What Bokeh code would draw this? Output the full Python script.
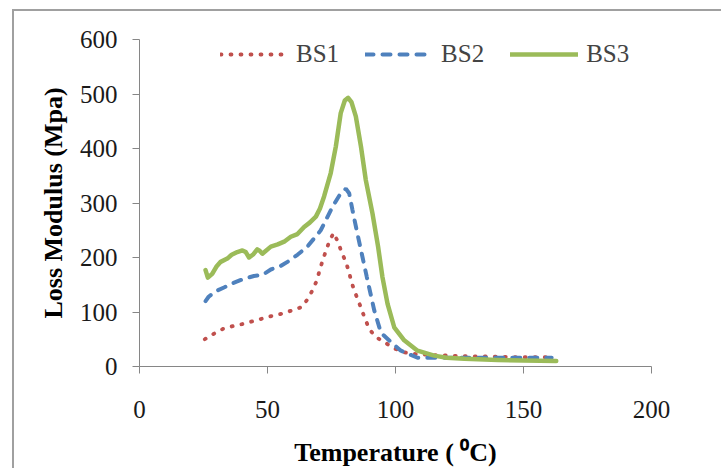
from bokeh.plotting import figure
from bokeh.models import Legend, LegendItem, Range1d, FixedTicker
from bokeh.embed import file_html
from bokeh.resources import INLINE

# ---- data ----
bs1_x = [25.5, 29, 32.6, 36.4, 40.3, 44.2, 48.1, 51.9, 55.8, 59.6, 63.3, 65.6, 67.6, 69.1, 70.3,
         71.5, 72.8, 74.2, 75.8, 77.6, 78.9, 80.6, 81.8, 82.8, 84.1, 85.7, 87.1, 89.7, 92.3, 95.6,
         99.1, 103.4, 107.3, 115, 127, 140, 150, 161]
bs1_y = [50, 60, 69, 74, 78, 83, 88, 93, 97, 103, 109, 123, 140, 156, 175,
         194, 212, 230, 245, 228, 210, 192, 174, 155, 137, 118, 100, 69, 54, 45,
         34, 26, 23, 21, 19, 18, 17, 17]

bs2_x = [25.8, 27, 29.7, 33, 36, 40.8, 44.7, 48, 51.3, 55, 57.8, 61.7, 65.6, 70.8, 75.4, 78.6,
         80.6, 81.9, 83.2, 85.1, 87.1, 88.8, 91.7, 94.3, 98.2, 102.1, 108.6, 115, 125, 140, 150, 161]
bs2_y = [120, 128, 138, 145, 152, 161, 166, 168, 178, 184, 192, 205, 220, 250, 293, 318,
         326, 318, 287, 244, 201, 164, 103, 62, 45, 29, 16, 16, 16, 16, 16, 16]

bs3_x = [25.8, 26.7, 28.4, 30, 31.7, 34.3, 36, 38.2, 40.2, 41.5, 42.8, 44.5, 46, 47, 48, 51.3,
         54, 56.5, 59.1, 61.7, 64.3, 66.5, 68.9, 70.5, 72.1, 74.7, 76.7, 78.6, 80.2, 81.5, 82.8,
         84.5, 86.5, 88.4, 91, 93.2, 94.9, 96.9, 99.5, 103.4, 108.6, 115.1, 120, 126.9, 140, 150, 162.8]
bs3_y = [177, 163, 170, 183, 192, 198, 205, 210, 213, 210, 200, 206, 215, 212, 207, 220,
         224, 229, 238, 243, 256, 264, 275, 290, 312, 355, 404, 465, 488, 493, 485,
         459, 404, 342, 281, 220, 164, 115, 72, 48, 29, 20, 16, 14, 12, 11, 10]

x_ticks = [0, 50, 100, 150, 200]
y_ticks = [0, 100, 200, 300, 400, 500, 600]
series_names = ["BS1", "BS2", "BS3"]

FONT = "Liberation Serif"
AXIS_GRAY = "#868686"

# canvas starts at (14, 11): 12/9 px margin + 2px border
p = figure(width=709, height=459, output_backend="svg", toolbar_location=None,
           x_range=Range1d(0, 200), y_range=Range1d(0, 600),
           min_border_left=125, min_border_right=72, min_border_top=28, min_border_bottom=104,
           margin=(9, 0, 0, 12))
p.styles = {"border-left": "2px solid #a0a0a0", "border-top": "2px solid #a0a0a0"}
p.outline_line_color = None
p.xgrid.visible = False
p.ygrid.visible = False

r1 = p.line(bs1_x, bs1_y, line_color="#C0504D", line_width=3.8, line_dash="1 9", line_cap="round")
r2 = p.line(bs2_x, bs2_y, line_color="#4F81BD", line_width=4, line_dash="8 9", line_cap="round")
r3 = p.line(bs3_x, bs3_y, line_color="#9BBB59", line_width=4.5, line_cap="round", line_join="round")

for ax, ticks in ((p.xaxis, x_ticks), (p.yaxis, y_ticks)):
    ax.ticker = FixedTicker(ticks=ticks)
    ax.minor_tick_line_color = None
    ax.axis_line_color = AXIS_GRAY
    ax.major_tick_line_color = AXIS_GRAY
    ax.major_tick_out = 7
    ax.major_tick_in = 0
    ax.major_label_text_font = FONT
    ax.major_label_text_font_size = "25px"
    ax.major_label_text_color = "#1a1a1a"
    ax.axis_label_text_font = FONT
    ax.axis_label_text_font_style = "bold"
    ax.axis_label_text_font_size = "26px"
    ax.axis_label_text_color = "#000000"

p.xaxis.axis_label = "Temperature ( \u2070C)"
p.yaxis.axis_label = "Loss Modulus (Mpa)"
p.xaxis.major_label_standoff = 27
p.xaxis.axis_label_standoff = 17
p.yaxis.major_label_standoff = 15
p.yaxis.axis_label_standoff = 9

legend = Legend(items=[LegendItem(label=series_names[0], renderers=[r1]),
                       LegendItem(label=series_names[1], renderers=[r2]),
                       LegendItem(label=series_names[2], renderers=[r3])],
                orientation="horizontal", location=(81, 298),
                border_line_color=None, background_fill_alpha=0,
                padding=0, margin=0, spacing=26, glyph_width=68, glyph_height=20,
                label_standoff=8, label_text_font=FONT, label_text_font_size="25px")
p.add_layout(legend)

open("out.html", "w").write(file_html(p, INLINE))
